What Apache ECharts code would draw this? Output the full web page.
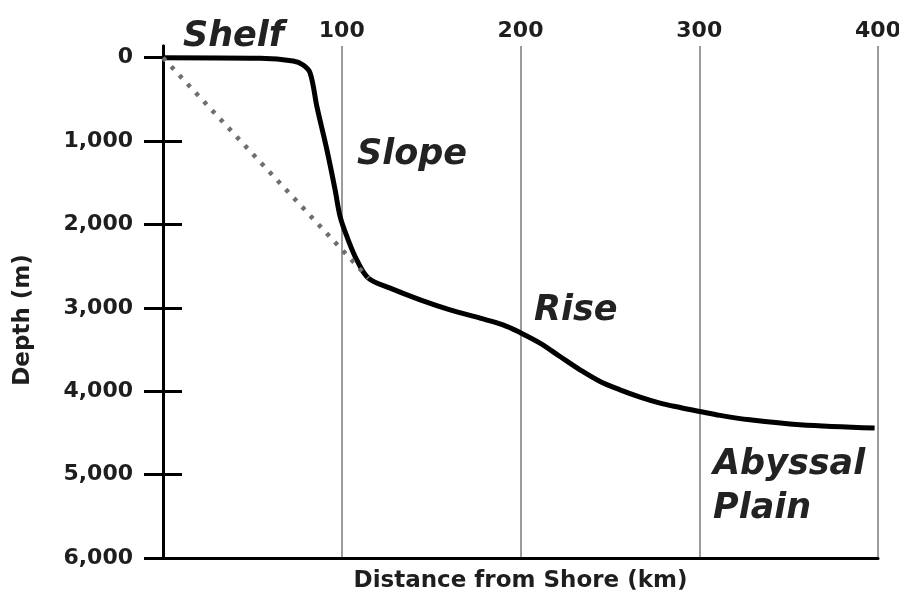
<!DOCTYPE html>
<html>
<head>
<meta charset="utf-8">
<script src="https://cdn.jsdelivr.net/npm/echarts@6/dist/echarts.min.js"></script>
<style>
  html, body { margin: 0; padding: 0; background: #fff; }
  #chart { width: 899px; height: 595px; }
</style>
</head>
<body>
<div id="chart"></div>
<script>
"use strict";

// seafloor profile: [distance from shore (km), depth (m)]
const profile = [
  [0, 0], [54.4, 7], [72.8, 40], [78.4, 88], [82.3, 183],
  [86.1, 587], [91.7, 1106], [96.3, 1586], [99.1, 1906], [102.9, 2146],
  [108.4, 2425], [114.9, 2644], [127.1, 2764], [143.9, 2904], [160.6, 3024],
  [177.4, 3124], [190.2, 3204], [199.7, 3296], [210.9, 3423], [222.1, 3584],
  [233.3, 3743], [244.5, 3883], [255.7, 3983], [266.9, 4070], [278.1, 4142],
  [289.3, 4195], [300.4, 4243], [311.6, 4290], [328.3, 4343], [356.3, 4402],
  [398.1, 4442]
];

// straight dotted reference from shore to the foot of the slope
const averageSlope = [[0, 0], [115, 2645]];

const depthTicks = [0, 1000, 2000, 3000, 4000, 5000, 6000];
const depthLabels = ["0", "1,000", "2,000", "3,000", "4,000", "5,000", "6,000"];
const distanceLabels = { 100: "100", 200: "200", 300: "300", 400: "400" };

const regionNames = ["Shelf", "Slope", "Rise", "Abyssal", "Plain"];

const FONT = "'DejaVu Sans', sans-serif";
const INK = "#1e1e1e";

const chart = echarts.init(document.getElementById("chart"));

const labelFont = { color: INK, fontFamily: FONT, fontWeight: "bold", fontSize: 22 };
const regionFont = "italic bold 35px 'DejaVu Sans', sans-serif";

// region labels, positioned by hand like in the drawing
const regionPos = [
  [183, 37], [357, 155], [534, 311], [713, 465], [713, 509]
];

const options = {
  animation: false,
  backgroundColor: "#fff",
  grid: {
    left: 163,
    right: 21,
    top: 46,
    bottom: 37,
    containLabel: false,
    outerBoundsMode: "none",
  },
  xAxis: [
    {
      type: "value",
      position: "top",
      min: 0,
      max: 400,
      interval: 100,
      axisLine: { show: false, onZero: false },
      axisTick: { show: false },
      axisLabel: {
        ...labelFont,
        margin: 4,
        showMinLabel: false,
        formatter: (v) => distanceLabels[v] ?? "",
      },
      splitLine: { show: true, lineStyle: { color: "#7a7a7a", width: 1.5 } },
    },
    {
      type: "value",
      position: "bottom",
      min: 0,
      max: 400,
      axisLine: { show: true, onZero: false, lineStyle: { color: "#000", width: 3 } },
      axisTick: { show: false },
      axisLabel: { show: false },
      splitLine: { show: false },
      name: "Distance from Shore (km)",
      nameLocation: "middle",
      nameGap: 12,
      nameTextStyle: { ...labelFont, fontSize: 23 },
    },
  ],
  yAxis: [
    {
      type: "value",
      position: "left",
      inverse: true,
      min: -140,
      max: 6000,
      axisLine: { show: true, onZero: false, lineStyle: { color: "#000", width: 3 } },
      axisTick: {
        show: true,
        length: 19,
        customValues: depthTicks,
        lineStyle: { color: "#000", width: 3 },
      },
      axisLabel: {
        ...labelFont,
        margin: 30,
        customValues: depthTicks,
        formatter: (v) => depthLabels[depthTicks.indexOf(v)] ?? "",
      },
      splitLine: { show: false },
    },
    {
      // second copy of the depth axis, only for the inner half of the ticks
      type: "value",
      position: "left",
      inverse: true,
      min: -140,
      max: 6000,
      axisLine: { show: true, onZero: false, lineStyle: { color: "#000", width: 3 } },
      axisTick: {
        show: true,
        inside: true,
        length: 19,
        customValues: depthTicks,
        lineStyle: { color: "#000", width: 3 },
      },
      axisLabel: { show: false },
      splitLine: { show: false },
    },
  ],
  series: [
    {
      type: "line",
      xAxisIndex: 0,
      yAxisIndex: 0,
      data: profile,
      smooth: 0.35,
      showSymbol: false,
      lineStyle: { color: "#000", width: 5 },
      z: 3,
    },
    {
      type: "line",
      xAxisIndex: 0,
      yAxisIndex: 0,
      data: averageSlope,
      showSymbol: false,
      lineStyle: { color: "#6e6e6e", width: 4.5, type: [4, 8], cap: "butt" },
      z: 4,
    },
  ],
  graphic: [
    {
      type: "text",
      x: 23,
      y: 320,
      rotation: Math.PI / 2,
      style: {
        text: "Depth (m)",
        font: "bold 23px 'DejaVu Sans', sans-serif",
        fill: INK,
        align: "center",
        verticalAlign: "middle",
      },
    },
    ...regionNames.map((name, i) => ({
      type: "text",
      x: regionPos[i][0],
      y: regionPos[i][1],
      style: {
        text: name,
        font: regionFont,
        fill: "#222",
        align: "left",
        verticalAlign: "middle",
      },
    })),
  ],
};

chart.setOption(options);
</script>
</body>
</html>
